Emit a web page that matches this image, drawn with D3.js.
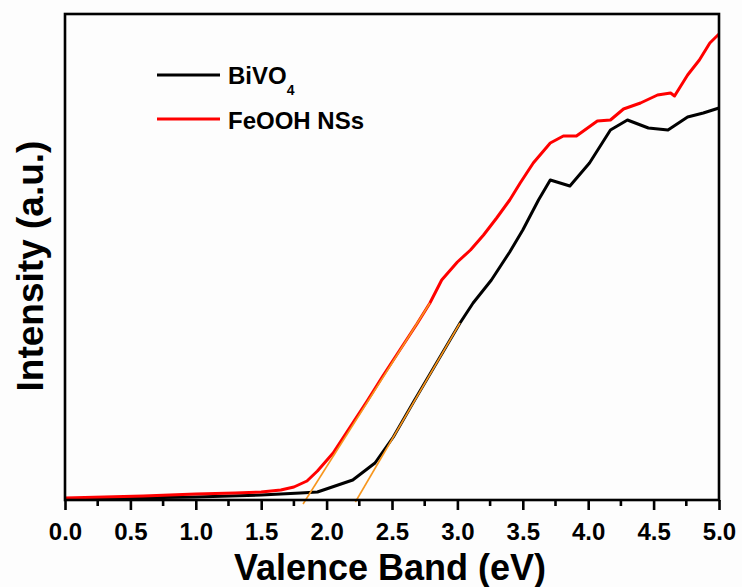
<!DOCTYPE html>
<html>
<head>
<meta charset="utf-8">
<script src="https://cdn.jsdelivr.net/npm/d3@7"></script>
<style>
  body { margin: 0; background: #fdfdfd; }
  text { font-family: "Liberation Sans", Arial, sans-serif; font-weight: bold; fill: #000; }
</style>
</head>
<body>
<div id="chart"></div>
<script>
// data (x in eV, intensity in a.u.)
var feoohX = [0.0,0.3,0.6,1.0,1.3,1.5,1.65,1.75,1.85,1.93,2.05,2.18,2.31,2.43,2.54,2.69,2.79,2.88,3.0,3.1,3.2,3.3,3.4,3.48,3.58,3.71,3.81,3.91,4.07,4.17,4.27,4.40,4.53,4.63,4.66,4.76,4.85,4.93,5.0]
var feoohY = [2,3,4,6,7,8,10,13,19,29,47,73,99,124,146,176,197,220,238,250,265,282,300,317,337,357,364,364,379,380,391,397,405,407,404,425,440,457,466]

var bivoX = [0.0,0.5,1.0,1.5,1.8,1.93,2.2,2.37,2.51,2.66,2.84,3.02,3.12,3.26,3.4,3.5,3.62,3.71,3.86,4.01,4.17,4.30,4.46,4.61,4.76,4.88,5.0]
var bivoY = [1,2,3,5,7,8,20,37,63,97,137,177,197,220,248,270,300,320,314,337,370,380,372,370,383,387,392]

// tangent (band edge) lines, two end points each
var tangentX = [[1.82, 2.79], [2.22, 3.02]]
var tangentY = [[-4, 197], [-2, 177]]

var xTicks = [0, 0.5, 1.0, 1.5, 2.0, 2.5, 3.0, 3.5, 4.0, 4.5, 5.0]
var xMinor = [0.25, 0.75, 1.25, 1.75, 2.25, 2.75, 3.25, 3.75, 4.25, 4.75]

var w = 742
var h = 587
var plotL = 65, plotR = 719, plotT = 14, plotB = 500

var svg = d3.select("#chart")
    .append("svg")
    .attr("width", w)
    .attr("height", h)

var x = d3.scaleLinear().domain([0, 5]).range([plotL, plotR])
var y = d3.scaleLinear().domain([0, 486]).range([plotB, plotT])

var line = d3.line()
    .x(function(d){ return x(d[0]) })
    .y(function(d){ return y(d[1]) })

function pairs(xs, ys){
    return xs.map(function(v, i){ return [v, ys[i]] })
}

// curves
svg.append("path")
    .attr("d", line(pairs(bivoX, bivoY)))
    .attr("fill", "none")
    .attr("stroke", "#000")
    .attr("stroke-width", 3)
    .attr("stroke-linejoin", "round")

svg.append("path")
    .attr("d", line(pairs(feoohX, feoohY)))
    .attr("fill", "none")
    .attr("stroke", "#ff0000")
    .attr("stroke-width", 3)
    .attr("stroke-linejoin", "round")

// tangents
tangentX.forEach(function(tx, i){
    svg.append("path")
        .attr("d", line(pairs(tx, tangentY[i])))
        .attr("stroke", "#f7961e")
        .attr("stroke-width", 1.6)
        .attr("fill", "none")
})

// frame
svg.append("rect")
    .attr("x", plotL)
    .attr("y", plotT)
    .attr("width", plotR - plotL)
    .attr("height", plotB - plotT)
    .attr("fill", "none")
    .attr("stroke", "#000")
    .attr("stroke-width", 2.6)

// x axis
var xAxis = d3.axisBottom(x)
    .tickValues(xTicks)
    .tickSize(10)
    .tickPadding(13)
    .tickFormat(d3.format(".1f"))

var gx = svg.append("g")
    .attr("transform", "translate(0," + plotB + ")")
    .call(xAxis)
gx.select(".domain").remove()
gx.selectAll("line").attr("stroke", "#000").attr("stroke-width", 2.6)
gx.selectAll("text")
    .style("font-size", "24px")
    .style("font-family", "Liberation Sans, Arial, sans-serif")
    .style("font-weight", "bold")
    .attr("fill", "#000")

svg.selectAll(".minor")
    .data(xMinor)
    .enter()
    .append("line")
    .attr("class", "minor")
    .attr("x1", function(d){ return x(d) })
    .attr("x2", function(d){ return x(d) })
    .attr("y1", plotB)
    .attr("y2", plotB + 6)
    .attr("stroke", "#000")
    .attr("stroke-width", 2.6)

// axis titles
svg.append("text")
    .attr("x", 390)
    .attr("y", 580)
    .attr("text-anchor", "middle")
    .style("font-size", "36px")
    .text("Valence Band (eV)")

svg.append("text")
    .attr("transform", "translate(43,266) rotate(-90)")
    .attr("text-anchor", "middle")
    .style("font-size", "37px")
    .text("Intensity (a.u.)")

// legend
var legend = svg.append("g")
legend.append("line")
    .attr("x1", 157).attr("x2", 220).attr("y1", 75).attr("y2", 75)
    .attr("stroke", "#000").attr("stroke-width", 3)
legend.append("line")
    .attr("x1", 157).attr("x2", 220).attr("y1", 119).attr("y2", 119)
    .attr("stroke", "#ff0000").attr("stroke-width", 3)

var t1 = legend.append("text")
    .attr("x", 228).attr("y", 84)
    .style("font-size", "24px")
t1.append("tspan").text("BiVO")
t1.append("tspan").attr("dy", 11).style("font-size", "14px").text("4")

legend.append("text")
    .attr("x", 228).attr("y", 129)
    .style("font-size", "24px")
    .text("FeOOH NSs")
</script>
</body>
</html>
